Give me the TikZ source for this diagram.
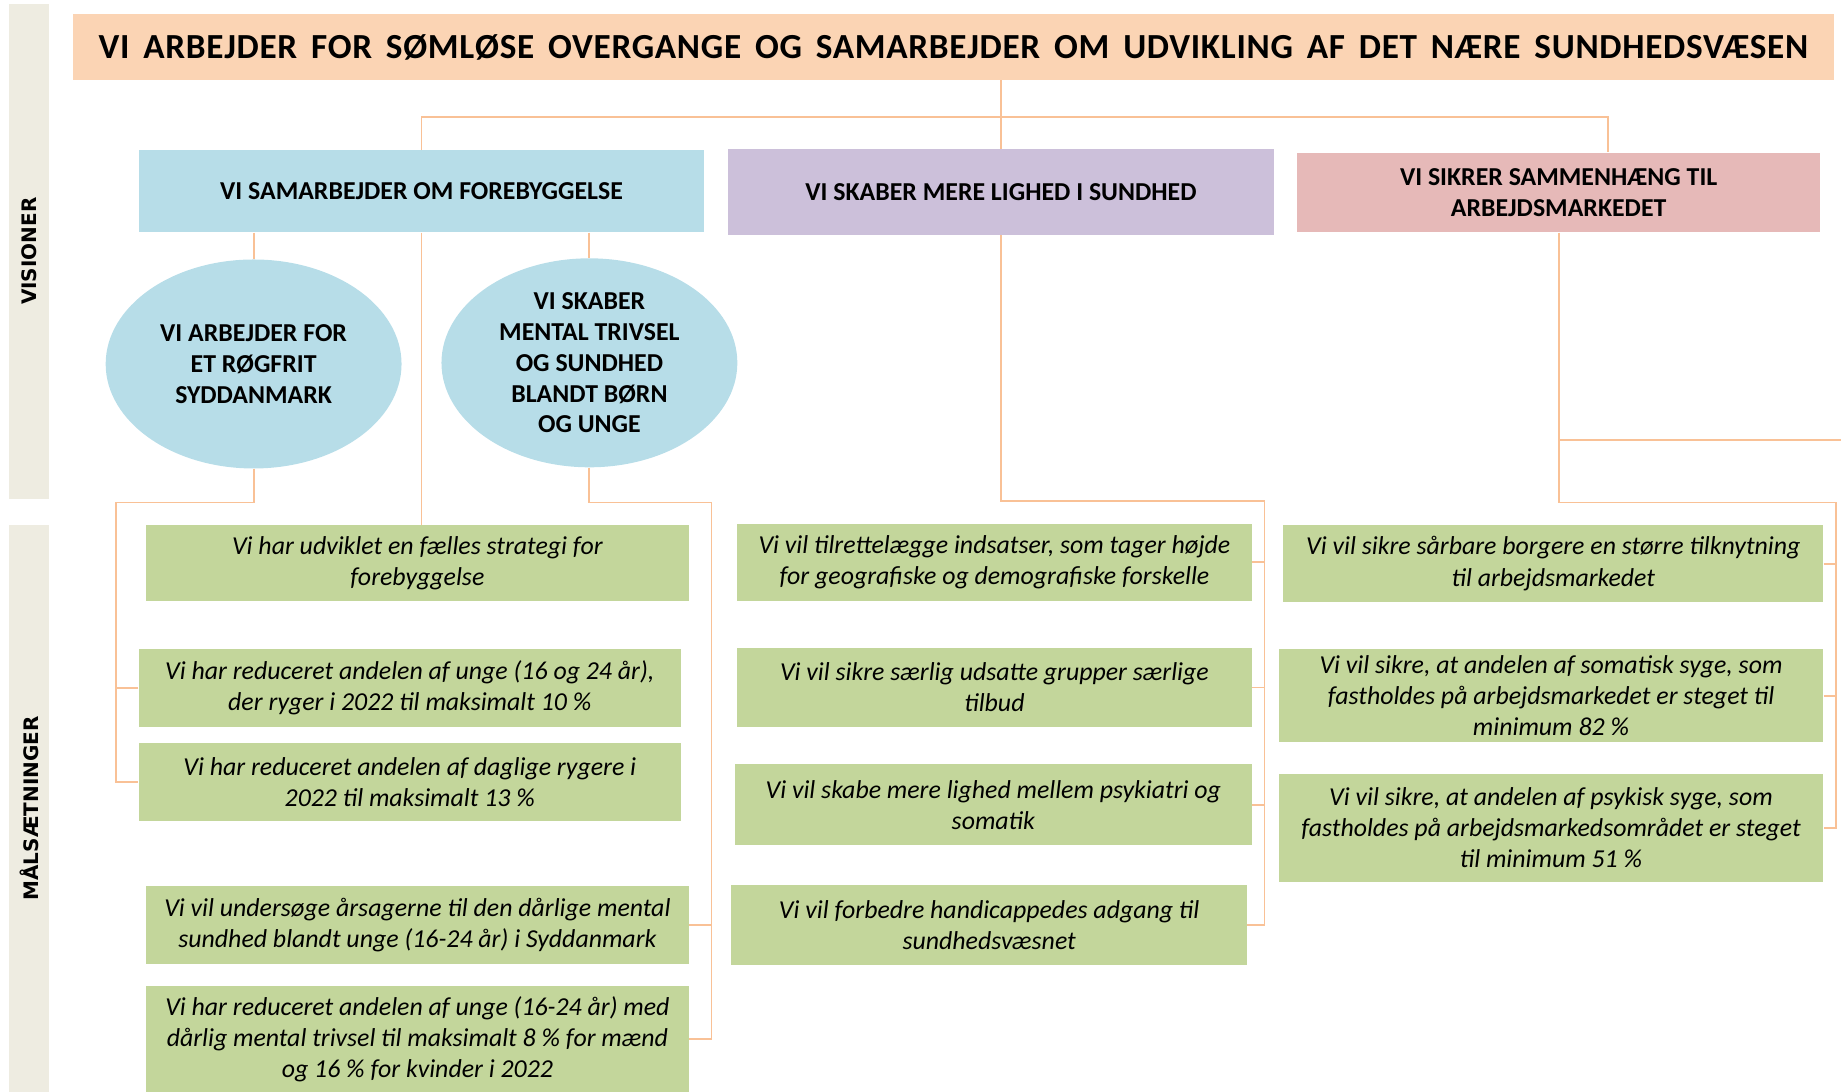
\documentclass[tikz,border=0pt]{standalone}
\usepackage{fontspec}
\setmainfont{Carlito}
\newfontfamily\sidefont{DejaVu Sans}
\newfontfamily\bannerfont[LetterSpace=2]{Carlito}
\usetikzlibrary{shapes.geometric}
\definecolor{titlepeach}{HTML}{FBD4B4}
\definecolor{visblue}{HTML}{B7DDE8}
\definecolor{vislilac}{HTML}{CCC0DA}
\definecolor{visrose}{HTML}{E6B9B8}
\definecolor{goalgreen}{HTML}{C3D69B}
\definecolor{sidegray}{HTML}{EEECE1}
\definecolor{wireorange}{HTML}{F9C196}
\tikzset{
    plan/.cd,
    side/.style={fill=sidegray,inner sep=0pt,rotate=90,font=\sidefont\bfseries\fontsize{17}{20}\selectfont},
    banner/.style={fill=titlepeach,inner sep=0pt,font=\bannerfont\bfseries\fontsize{30}{34}\selectfont},
    vision/.style={inner sep=0pt,align=center,font=\bfseries\fontsize{22}{26}\selectfont},
    bubble/.style={ellipse,fill=visblue,inner sep=0pt,align=center,minimum width=252pt,minimum height=178pt,font=\bfseries\fontsize{22}{26.3}\selectfont},
    goal/.style={fill=goalgreen,inner sep=0pt,align=center,font=\itshape\fontsize{22}{26.5}\selectfont},
    wire/.style={draw=wireorange,line width=1.6pt},
}

\begin{document}
\begin{tikzpicture}[x=1pt,y=-1pt]
      \useasboundingbox (0,0) rectangle (1568,930);

      \node[plan/side,minimum width=422pt,minimum height=34pt] (visbar) at (25,214) {VISIONER};
      \node[plan/side,minimum width=483pt,minimum height=34pt] (goalbar) at (25,688.5) {MÅLSÆTNINGER};

      \node[plan/banner,minimum width=1500pt,minimum height=56pt] (title) at (812,40)
        {\makebox[1456pt][s]{VI ARBEJDER FOR SØMLØSE OVERGANGE OG SAMARBEJDER OM UDVIKLING AF DET NÆRE SUNDHEDSVÆSEN}};

      \node[plan/vision,fill=visblue,minimum width=482pt,minimum height=70pt] (vis1) at (359,163) {VI SAMARBEJDER OM FOREBYGGELSE};
      \node[plan/vision,fill=vislilac,minimum width=465pt,minimum height=73pt] (vis2) at (852.5,163.5) {VI SKABER MERE LIGHED I SUNDHED};
      \node[plan/vision,fill=visrose,minimum width=445pt,minimum height=68pt] (vis3) at (1327.5,164) {VI SIKRER SAMMENHÆNG TIL\\ARBEJDSMARKEDET};

      \node[plan/bubble] (circ1) at (216,310) {VI ARBEJDER FOR\\ET RØGFRIT\\SYDDANMARK};
      \node[plan/bubble] (circ2) at (502,309) {VI SKABER\\MENTAL TRIVSEL\\OG SUNDHED\\BLANDT BØRN\\OG UNGE};

      \node[plan/goal,minimum width=463pt,minimum height=65pt] (g11) at (355.5,479.5) {Vi har udviklet en fælles strategi for\\forebyggelse};
      \node[plan/goal,minimum width=462pt,minimum height=66pt] (g12) at (349,586) {Vi har reduceret andelen af unge (16 og 24 år),\\der ryger i 2022 til maksimalt 10 \%};
      \node[plan/goal,minimum width=462pt,minimum height=66pt] (g13) at (349,666) {Vi har reduceret andelen af daglige rygere i\\2022 til maksimalt 13 \%};
      \node[plan/goal,minimum width=463pt,minimum height=66pt] (g14) at (355.5,788) {Vi vil undersøge årsagerne til den dårlige mental\\sundhed blandt unge (16-24 år) i Syddanmark};
      \node[plan/goal,minimum width=463pt,minimum height=90pt] (g15) at (355.5,885) {Vi har reduceret andelen af unge (16-24 år) med\\dårlig mental trivsel til maksimalt 8 \% for mænd\\og 16 \% for kvinder i 2022};

      \node[plan/goal,minimum width=438pt,minimum height=66pt] (g21) at (847,479) {Vi vil tilrettelægge indsatser, som tager højde\\for geografiske og demografiske forskelle};
      \node[plan/goal,minimum width=438pt,minimum height=67pt] (g22) at (847,585.5) {Vi vil sikre særlig udsatte grupper særlige\\tilbud};
      \node[plan/goal,minimum width=440pt,minimum height=69pt] (g23) at (846,685.5) {Vi vil skabe mere lighed mellem psykiatri og\\somatik};
      \node[plan/goal,minimum width=439pt,minimum height=68pt] (g24) at (842.5,788) {Vi vil forbedre handicappedes adgang til\\sundhedsvæsnet};

      \node[plan/goal,minimum width=460pt,minimum height=66pt] (g31) at (1323,480) {Vi vil sikre sårbare borgere en større tilknytning\\til arbejdsmarkedet};
      \node[plan/goal,minimum width=464pt,minimum height=79pt] (g32) at (1321,592.5) {Vi vil sikre, at andelen af somatisk syge, som\\fastholdes på arbejdsmarkedet er steget til\\minimum 82 \%};
      \node[plan/goal,minimum width=464pt,minimum height=92pt] (g33) at (1321,705) {Vi vil sikre, at andelen af psykisk syge, som\\fastholdes på arbejdsmarkedsområdet er steget\\til minimum 51 \%};

      \coordinate (hub) at (853,100);
      \coordinate (smokerail) at (99,428);
      \coordinate (mindrail) at (606,428);
      \coordinate (equalrail) at (1077,427);
      \coordinate (workrail) at (1564,428);
      \coordinate (workcut) at (1568,375);

      \draw[plan/wire] (title.south -| vis2.north) -- (vis2.north);
      \draw[plan/wire] (vis1.north) |- (hub) -| ([xshift=42pt]vis3.north);
      \draw[plan/wire] (circ1.north |- vis1.south) -- (circ1.north);
      \draw[plan/wire] (circ2.north |- vis1.south) -- (circ2.north);
      \draw[plan/wire] (vis1.south) -- (vis1.south |- g11.north);

      \draw[plan/wire] (circ1.south) |- (smokerail) |- (g13.west);
      \draw[plan/wire] (g12.west) -- (g12.west -| smokerail);
      \draw[plan/wire] (circ2.south) |- (mindrail) |- (g15.east);
      \draw[plan/wire] (g14.east) -- (g14.east -| mindrail);

      \draw[plan/wire] (vis2.south) |- (equalrail) |- (g24.east);
      \foreach \i in {1,2,3} {
        \draw[plan/wire] (g2\i.east) -- (g2\i.east -| equalrail);
      }

      \draw[plan/wire] (vis3.south) |- (workrail) |- (g33.east);
      \foreach \i in {1,2} {
        \draw[plan/wire] (g3\i.east) -- (g3\i.east -| workrail);
      }
      \draw[plan/wire] (vis3.south |- workcut) -- (workcut);
    \end{tikzpicture}
\end{document}
